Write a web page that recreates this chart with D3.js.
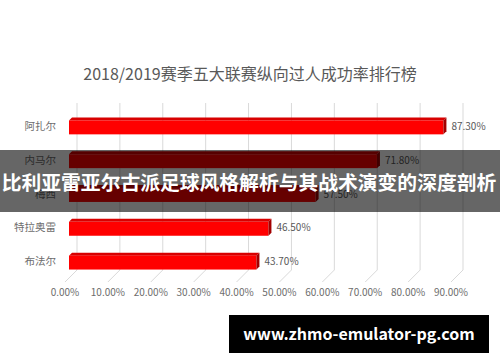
<!DOCTYPE html>
<html><head><meta charset="utf-8">
<script src="https://cdn.jsdelivr.net/npm/d3@7"></script>
<style>body{margin:0;background:#fff;}svg{display:block;}text{font-family:"Noto Sans CJK SC","Noto Sans",sans-serif;}</style>
</head><body>
<svg id="c" width="500" height="362"></svg>
<script>
const title = "2018/2019赛季五大联赛纵向过人成功率排行榜";
const players = ["阿扎尔","内马尔","梅西","特拉奥雷","布法尔"];
const rates = [87.3, 71.8, 57.5, 46.5, 43.7];
const ticks = [0,10,20,30,40,50,60,70,80,90];
const banner = "比利亚雷亚尔古派足球风格解析与其战术演变的深度剖析";
const watermark = "www.zhmo-emulator-pg.com";

const svg = d3.select("#c");
svg.append("rect").attr("width",500).attr("height",362).attr("fill","#fff");

const x = d3.scaleLinear().domain([0,90]).range([65,451]);
const y = d3.scaleBand().domain(players).range([109,278]).paddingInner(0.5).paddingOuter(0.25);
const dx = 12, dy = 12, wallTop = 103, wallBottom = 270;

svg.append("text").attr("x",250).attr("y",80).attr("text-anchor","middle")
  .attr("font-size",16).attr("fill","#595959").text(title);

// grid (3D back wall + floor)
const g = svg.append("g");
ticks.forEach(t=>{
  g.append("line").attr("x1",x(t)+dx).attr("x2",x(t)+dx).attr("y1",wallTop).attr("y2",wallBottom)
    .attr("stroke","#d9d9d9").attr("stroke-width",1);
  g.append("line").attr("x1",x(t)+dx).attr("x2",x(t)).attr("y1",wallBottom).attr("y2",wallBottom+dy)
    .attr("stroke","#d9d9d9").attr("stroke-width",1);
});
// x axis labels
svg.append("g").selectAll("text").data(ticks).join("text")
  .attr("x",d=>x(d)).attr("y",296).attr("text-anchor","middle")
  .attr("font-size",10).attr("fill","#6d6d6d").text(d=>d.toFixed(2)+"%");

// bars
const b = 3, x0 = x(0)+4;
const bars = svg.append("g").selectAll("g").data(players.map((p,i)=>({p,v:rates[i]}))).join("g");
bars.each(function(d){
  const s = d3.select(this);
  const top = y(d.p), bot = top + y.bandwidth();
  const x1 = x0 + (x(d.v)-x(0));
  s.append("polygon").attr("points",[[x0,top+b],[x0+b,top],[x1+b,top],[x1,top+b]].join(" ")).attr("fill","#d80000");
  s.append("rect").attr("x",x0).attr("y",top+b).attr("width",x1-x0).attr("height",bot-top-b).attr("fill","#ff0000");
  s.append("polygon").attr("points",[[x1,top+b],[x1+b,top],[x1+b,bot-b],[x1,bot]].join(" ")).attr("fill","#a30000");
  s.append("text").attr("x",x1+b+5).attr("y",top+y.bandwidth()/2+4).attr("font-size",10)
    .attr("fill","#595959").text(d.v.toFixed(2)+"%");
});
// category labels
svg.append("g").selectAll("text").data(players).join("text")
  .attr("x",56).attr("y",d=>y(d)+y.bandwidth()/2+4).attr("text-anchor","end")
  .attr("font-size",10.5).attr("fill","#6d6d6d").text(d=>d);

// overlay banner
svg.append("rect").attr("x",0).attr("y",150).attr("width",500).attr("height",62).attr("fill","rgba(0,0,0,0.6)");
svg.append("text").attr("x",249).attr("y",190).attr("text-anchor","middle").attr("font-size",19.8)
  .attr("font-weight","bold").attr("fill","#fff").text(banner);

// watermark
svg.append("rect").attr("x",229).attr("y",315).attr("width",260).attr("height",38).attr("fill","#000");
svg.append("text").attr("x",359).attr("y",339.5).attr("text-anchor","middle").attr("font-size",16)
  .attr("font-weight","bold").attr("fill","#fff").text(watermark);
</script>
</body></html>
